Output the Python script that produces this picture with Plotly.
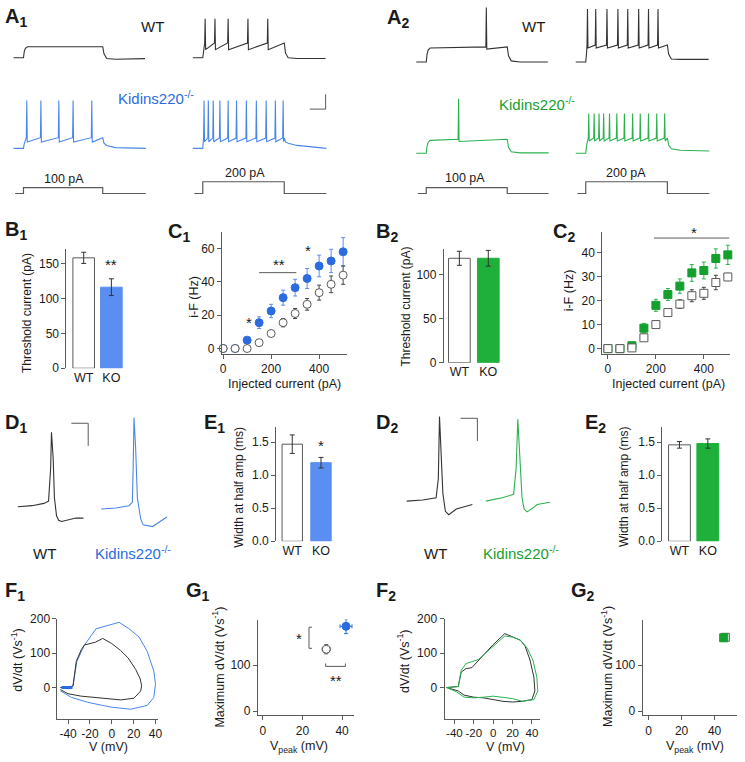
import plotly.graph_objects as go

W, H = 745, 762
FONT = "Liberation Sans, Arial, Helvetica, sans-serif"
INK = "#1a1a1a"
GRAY = "#5a5a5a"
TRACE_BLACK = "#333333"
BLUE = "#2b6be0"
BLUE_BAR = "#5a8ef0"
BLUE_LINE = "#4a86ea"
GREEN = "#15a02e"
GREEN_BAR = "#1eb03b"
GREEN_LINE = "#2bb24f"

# ======================= DATA =======================
groups = ["WT", "KO"]
bar_pos = [1, 2]

# --- A: current-clamp recordings (time in ms, voltage in mV above rest) ---
a_rest = -70
step_amps = [100, 200]                      # injected current steps (pA)
a1_on = [73, 73]
a1_off = [573, 587]
a2_on = [73, 73]
a2_off = [584, 588]
a_end = [840, 848]

a1_wt100_spikes = []
a1_wt200_spikes = [88, 150, 233, 358, 483]
a1_ko100_spikes = [94, 183, 296, 386, 504]
a1_ko200_spikes = [81, 108, 139, 181, 233, 286, 348, 411, 473, 531, 580]
a2_wt100_spikes = [452]
a2_wt200_spikes = [84, 136, 207, 276, 338, 407, 469, 529]
a2_ko100_spikes = [277]
a2_ko200_spikes = [92, 126, 157, 186, 223, 269, 317, 369, 417, 469, 521, 571]

# plateau (mV above rest), spike peak (mV above rest), sawtooth half-depth (mV)
a1_wt100_level = [15.0, 0, 0]
a1_wt200_level = [15.5, 53, 4.5]
a1_ko100_level = [11.5, 65, 3.0]
a1_ko200_level = [11.5, 65, 2.5]
a2_wt100_level = [19.0, 74, 1.5]
a2_wt200_level = [21.0, 72, 2.0]
a2_ko100_level = [17.5, 74, 1.5]
a2_ko200_level = [18.7, 54, 2.0]
# after-step relaxation (mV above rest at +25 ms, +80 ms, end)
a1_wt100_tail = [-1.0, -2.0, -1.2]
a1_wt200_tail = [0.0, -1.0, -1.0]
a1_ko100_tail = [4.0, 1.0, 0.0]
a1_ko200_tail = [7.0, 4.0, 0.0]
a2_wt100_tail = [1.5, 0.0, 0.0]
a2_wt200_tail = [4.0, 3.5, 3.5]
a2_ko100_tail = [2.0, 0.5, 0.5]
a2_ko200_tail = [6.0, 4.0, 3.0]
a_scale_ms, a_scale_mV = 100, 20

# --- B: threshold current (pA) ---
b1_thr = [158, 116]
b1_err = [8, 12]
b2_thr = [119, 119]
b2_err = [8, 9]

# --- C: i-F curves ---
inj = [0, 50, 100, 150, 200, 250, 300, 350, 400, 450, 500]
c1_wt = [0, 0, 0, 3.5, 9, 15.5, 21, 26.5, 33.5, 38.5, 44]
c1_wt_err = [0, 0, 0, 1, 1.5, 2.5, 3, 3.5, 4.5, 5, 5.5]
c1_ko = [0, 0, 5, 15.5, 22.5, 30.5, 36.5, 42, 49.5, 52.5, 58]
c1_ko_err = [0, 0, 1.5, 3.5, 4, 4.5, 5, 6, 6.5, 7, 8.5]
c2_wt = [0, 0, 0.3, 4.5, 10, 15, 18.5, 22, 23, 27.5, 29.8]
c2_wt_err = [0, 0, 0.5, 1, 1, 1.5, 1.8, 2.5, 2.5, 3, 1.5]
c2_ko = [0, 0, 1.2, 8.5, 18, 22.5, 26, 31.5, 32.5, 37.5, 39]
c2_ko_err = [0, 0, 0.8, 2, 2.5, 2.5, 3, 3.5, 3.5, 4, 4]

# --- D: single action potentials (ms, mV) ---
d1_wt_t = [0.7, 2.4, 3.8, 4.35, 4.6, 4.7, 4.9, 5.05, 5.3, 5.55, 5.9, 6.5, 7.6, 8.5]
d1_wt_v = [-61, -60, -58, -56, -27, 5, -18, -53, -69, -73, -74, -73, -71, -71]
d1_ko_t = [10.6, 12.35, 13.9, 14.3, 14.4, 14.5, 14.7, 14.9, 15.3, 15.6, 16.7, 17.4, 18.4]
d1_ko_v = [-63, -62, -60, -57, -27, 18, -10, -53, -72, -77, -78.5, -75, -70]
d2_wt_t = [1.0, 2.9, 4.5, 4.76, 4.9, 5.06, 5.3, 5.6, 6.0, 6.9, 7.8, 8.8]
d2_wt_v = [-56, -55, -53, -36, 19, -10, -49, -65, -68, -63, -61, -59]
d2_ko_t = [10.4, 12.35, 13.7, 14.0, 14.2, 14.4, 14.7, 14.95, 15.3, 16.0, 16.5, 18.0]
d2_ko_v = [-56, -53, -50, -27, 16.5, -10, -53, -63, -65.5, -62, -59, -57]
d_scale_ms, d_scale_mV = 2, 20

# --- E: AP width at half amplitude (ms) ---
e1_w = [1.47, 1.19]
e1_err = [0.14, 0.08]
e2_w = [1.46, 1.48]
e2_err = [0.05, 0.07]

# --- F: phase plots (V in mV, dV/dt in V/s) ---
f1_wt_v = [-47, -40, -35.5, -32.5, -28, -25, -15, -8.3, 0, 8, 15, 22, 26, 27.3, 26.4, 20.3, 8.3, -6.8, -28, -40, -47]
f1_wt_d = [0, 1, 4.7, 76, 110, 124, 132, 143, 128, 108, 86, 52, 25, 5, -10, -31, -36, -31, -25, -18, -6]
f1_ko_v = [-47, -37, -35.5, -32, -25, -14.4, 6.7, 15.8, 24.9, 32.5, 38.4, 40, 38.4, 32.5, 17.3, -0.8, -21.9, -37, -47]
f1_ko_d = [0, 0, 5, 76, 124, 171, 190, 171, 147, 105, 48, 9.5, -28.6, -52, -63, -57, -43, -28.6, -9.5]
f1_ko_rest_v = [-46, -36]
f1_ko_rest_d = [0, 0]
f2_wt_v = [-48, -36, -33, -28, -22, -15, -8, 0, 12, 20, 28, 33, 38, 42, 43, 40, 30, 20, 10, 0, -10, -20, -30, -36, -48]
f2_wt_d = [0, 3, 45, 55, 58, 80, 100, 125, 157, 148, 138, 120, 80, 30, -10, -35, -40, -42, -40, -35, -30, -28, -22, -10, 0]
f2_ko_v = [-48, -36, -33, -28, -22, -15, -8, 0, 12, 20, 28, 35, 41, 45, 46, 42, 30, 20, 10, 0, -10, -20, -30, -38, -48]
f2_ko_d = [0, 3, 50, 70, 75, 82, 100, 120, 150, 147, 138, 115, 80, 30, -10, -35, -40, -32, -28, -25, -28, -30, -28, -12, 0]

# --- G: maximum dV/dt vs V peak ---
g1_vpeak = [32, 42]
g1_vpeak_err = [2, 3]
g1_max = [135, 185]
g1_max_err = [10, 16]
g2_vpeak = [46.5, 45.5]
g2_vpeak_err = [1, 1]
g2_max = [161, 160]
g2_max_err = [7, 8]

# ======================= FIGURE =======================
fig = go.Figure()
layout = {}
anns = []
shapes = []
counter = [0]


def add_axes(xpx, ypx, xr, yr):
    counter[0] += 1
    i = counter[0]
    xa = "xaxis" if i == 1 else f"xaxis{i}"
    ya = "yaxis" if i == 1 else f"yaxis{i}"
    xref = "x" if i == 1 else f"x{i}"
    yref = "y" if i == 1 else f"y{i}"
    layout[xa] = dict(domain=[max(0, xpx[0] / W), min(1, xpx[1] / W)], range=xr,
                      anchor=yref, visible=False, fixedrange=True, showgrid=False, zeroline=False)
    layout[ya] = dict(domain=[max(0, 1 - ypx[1] / H), min(1, 1 - ypx[0] / H)], range=yr,
                      anchor=xref, visible=False, fixedrange=True, showgrid=False, zeroline=False)
    return xref, yref, xa, ya


AXSTYLE = dict(visible=True, showline=True, linecolor=GRAY, linewidth=1, ticks="outside",
               ticklen=4, tickcolor=GRAY, tickwidth=1, showgrid=False, zeroline=False,
               tickangle=0, tickfont=dict(family=FONT, size=12, color=INK))


def style(a, **kw):
    d = dict(AXSTYLE)
    d.update(kw)
    layout[a].update(d)


def text(s, xpx, ypx, size=12, color=INK, angle=0, xanchor="center", yanchor="middle"):
    anns.append(dict(text=s, x=xpx / W, y=1 - ypx / H, xref="paper", yref="paper",
                     showarrow=False, textangle=angle, xanchor=xanchor, yanchor=yanchor,
                     font=dict(family=FONT, size=size, color=color)))


def dtext(s, xref, yref, x, y, size=15):
    anns.append(dict(text=s, x=x, y=y, xref=xref, yref=yref, showarrow=False,
                     font=dict(family=FONT, size=size, color=INK)))


def line(xref, yref, xs, ys, color, width=1):
    fig.add_trace(go.Scatter(x=xs, y=ys, xaxis=xref, yaxis=yref, mode="lines",
                             line=dict(color=color, width=width), hoverinfo="skip"))


# ---------- A panels ----------
PX_MS, PX_MV, PX_PA = 0.16, 0.75, 0.06


def firing(spikes, level, on, off, end, tail):
    plat, peak, sag = level
    t = [10, on]
    v = [0.0, 0.0]
    first = spikes[0] if spikes else off
    for dt, frac in [(5, 0.55), (12, 0.85), (25, 1.0)]:
        if on + dt < first - 3:
            t.append(on + dt)
            v.append(plat * frac)
    for s in spikes:
        t += [s - 3, s, s + 3]
        v += [plat + sag, peak, plat - sag]
    t.append(off)
    v.append(plat + (sag if spikes else 0))
    t += [off + 8, off + 25, off + 80, end]
    v += [plat * 0.4 + tail[0] * 0.6, tail[0], tail[1], tail[2]]
    return t, [a_rest + x for x in v]


def trace_axes(x0, rest_px):
    top = max(0, rest_px - 56)
    bot = rest_px + 12
    xr = [0, 140 / PX_MS]
    yr = [a_rest - (bot - rest_px) / PX_MV, a_rest + (rest_px - top) / PX_MV]
    return add_axes([x0, x0 + 140], [top, bot], xr, yr)


def step_axes(x0, base_px=190):
    return add_axes([x0, x0 + 140], [165, 196],
                    [0, 140 / PX_MS], [-(196 - base_px) / PX_PA, (base_px - 165) / PX_PA])


A_COLS = [(10, 51.7, 144, a1_on[0], a1_off[0], a_end[0]),
          (191, 51.7, 144, a1_on[1], a1_off[1], a_end[1]),
          (416.6, 56, 149, a2_on[0], a2_off[0], a_end[0]),
          (577.6, 56, 149, a2_on[1], a2_off[1], a_end[1])]
A_DATA = [
    (a1_wt100_spikes, a1_wt100_level, a1_wt100_tail, a1_ko100_spikes, a1_ko100_level, a1_ko100_tail, BLUE_LINE, step_amps[0]),
    (a1_wt200_spikes, a1_wt200_level, a1_wt200_tail, a1_ko200_spikes, a1_ko200_level, a1_ko200_tail, BLUE_LINE, step_amps[1]),
    (a2_wt100_spikes, a2_wt100_level, a2_wt100_tail, a2_ko100_spikes, a2_ko100_level, a2_ko100_tail, GREEN_LINE, step_amps[0]),
    (a2_wt200_spikes, a2_wt200_level, a2_wt200_tail, a2_ko200_spikes, a2_ko200_level, a2_ko200_tail, GREEN_LINE, step_amps[1]),
]
for (x0, wt_rest, ko_rest, on, off, end), (ws, wl, wtail, ks, kl, ktail, kcol, amp) in zip(A_COLS, A_DATA):
    xr_, yr_, _, _ = trace_axes(x0, wt_rest)
    t, v = firing(ws, wl, on, off, end, wtail)
    line(xr_, yr_, t, v, TRACE_BLACK, 1.1)
    xr_, yr_, _, _ = trace_axes(x0, ko_rest)
    t, v = firing(ks, kl, on, off, end + 5, ktail)
    line(xr_, yr_, t, v, kcol, 1.1)
    if x0 == 191:
        # scale bar (100 ms, 20 mV)
        line(xr_, yr_, [848 - a_scale_ms, 848, 848],
             [a_rest + 53.3, a_rest + 53.3, a_rest + 53.3 + a_scale_mV], GRAY, 1)
    xs_, ys_, _, _ = step_axes(x0)
    line(xs_, ys_, [20, on, on, off, off, end + 5], [0, 0, amp, amp, 0, 0], GRAY, 1.2)

text("WT", 152, 20, size=15)
text("Kidins220<sup>-/-</sup>", 155, 92, size=15, color=BLUE)
text("100 pA", 63, 175, size=12.5)
text("200 pA", 245, 169, size=12.5)
text("WT", 537, 20, size=15)
text("Kidins220<sup>-/-</sup>", 540, 98, size=15, color=GREEN)
text("100 pA", 467, 174, size=12.5)
text("200 pA", 630, 169, size=12.5)


# ---------- B panels ----------
def bar_panel(xpx, ypx, xr, yr, vals, errs, kcolor, width, ticks, title, tx, ty, fmt=None):
    xr_, yr_, xa, ya = add_axes(xpx, ypx, xr, yr)
    fig.add_trace(go.Bar(x=bar_pos, y=vals, width=width, xaxis=xr_, yaxis=yr_,
                         marker=dict(color=["white", kcolor], line=dict(color=[GRAY, kcolor], width=1)),
                         error_y=dict(type="data", array=errs, color="#333", thickness=1, width=2.5),
                         hoverinfo="skip"))
    style(ya, tickvals=ticks, ticktext=[fmt.format(v) for v in ticks] if fmt else None)
    style(xa, showline=False, ticks="", tickvals=bar_pos, ticktext=groups,
          tickfont=dict(family=FONT, size=12.5, color=INK))
    text(title, tx, ty, size=12, angle=-90)
    return xr_, yr_


xb1, yb1 = bar_panel([65, 130], [247, 368], [0.375, 2.7], [0, 170], b1_thr, b1_err, BLUE_BAR, 0.78,
                     [0, 50, 100, 150], "Threshold current (pA)", 26, 312)
dtext("**", xb1, yb1, 2, 149)
bar_panel([446, 510], [246.7, 362.3], [0.462, 2.654], [0, 129.4], b2_thr, b2_err, GREEN_BAR, 0.75,
          [0, 50, 100], "Threshold current (pA)", 408, 305)


# ---------- C panels ----------
def err_scatter(xr_, yr_, x, y, e, symbol, fill, edge, ecol, size=8):
    fig.add_trace(go.Scatter(x=x, y=y, xaxis=xr_, yaxis=yr_, mode="markers", cliponaxis=False,
                             marker=dict(symbol=symbol, size=size, color=fill, line=dict(color=edge, width=1)),
                             error_y=dict(type="data", array=e, color=ecol, thickness=1, width=2),
                             hoverinfo="skip"))


xc1, yc1, xa, ya = add_axes([222, 348], [229, 353], [-5, 515], [-3, 70])
err_scatter(xc1, yc1, inj, c1_ko, c1_ko_err, "circle", BLUE, BLUE, BLUE_BAR)
err_scatter(xc1, yc1, inj, c1_wt, c1_wt_err, "circle", "white", GRAY, "#444")
style(ya, tickvals=[0, 20, 40, 60])
style(xa, tickvals=[0, 200, 400])
text("i-F (Hz)", 193, 295, size=12.5, angle=-90)
text("Injected current (pA)", 285, 384, size=12.5)
shapes.append(dict(type="line", xref=xc1, yref=yc1, x0=150, x1=305, y0=45.5, y1=45.5,
                   line=dict(color=GRAY, width=1)))
dtext("**", xc1, yc1, 232, 50.5)
dtext("*", xc1, yc1, 106, 15.5)
dtext("*", xc1, yc1, 354, 59)

xc2, yc2, xa, ya = add_axes([606, 735], [229, 353], [-23.5, 509.5], [-2.04, 48.6])
err_scatter(xc2, yc2, inj, c2_ko, c2_ko_err, "square", GREEN, GREEN, GREEN_LINE)
err_scatter(xc2, yc2, inj, c2_wt, c2_wt_err, "square", "white", GRAY, "#444")
style(ya, tickvals=[0, 10, 20, 30, 40])
style(xa, tickvals=[0, 200, 400])
text("i-F (Hz)", 572, 289, size=12.5, angle=-90)
text("Injected current (pA)", 673, 384, size=12.5)
shapes.append(dict(type="line", xref=xc2, yref=yc2, x0=192, x1=506, y0=46, y1=46,
                   line=dict(color=GRAY, width=1)))
dtext("*", xc2, yc2, 357, 48.5)

# ---------- D panels ----------
PX_DMS, PX_DMV = 8.5, 1.15
for (x0, wt_t, wt_v, ko_t, ko_v, kcol, sb) in [
        (10, d1_wt_t, d1_wt_v, d1_ko_t, d1_ko_v, BLUE_LINE, (7.06, 13)),
        (400, d2_wt_t, d2_wt_v, d2_ko_t, d2_ko_v, GREEN_LINE, (7.4, 17.4))]:
    xd, yd, _, _ = add_axes([x0, x0 + 165], [410, 540], [0, 165 / PX_DMS],
                            [-60 - 32 / PX_DMV, -60 + 98 / PX_DMV])
    line(xd, yd, wt_t, wt_v, TRACE_BLACK, 1.1)
    line(xd, yd, ko_t, ko_v, kcol, 1.1)
    line(xd, yd, [sb[0], sb[0] + d_scale_ms, sb[0] + d_scale_ms],
         [sb[1], sb[1], sb[1] - d_scale_mV], GRAY, 1)

text("WT", 43, 557, size=15)
text("Kidins220<sup>-/-</sup>", 132, 556, size=15, color=BLUE)
text("WT", 438, 557, size=15)
text("Kidins220<sup>-/-</sup>", 524, 556, size=15, color=GREEN)

# ---------- E panels ----------
xe1, ye1 = bar_panel([276.7, 340], [428, 544.3], [0.438, 2.62], [0, 1.728], e1_w, e1_err, BLUE_BAR, 0.71,
                     [0, 0.5, 1.0, 1.5], "Width at half amp (ms)", 239, 489, fmt="{:.1f}")
dtext("*", xe1, ye1, 2, 1.45)
bar_panel([666.7, 730], [428, 544.3], [0.4, 2.61], [0, 1.728], e2_w, e2_err, GREEN_BAR, 0.77,
          [0, 0.5, 1.0, 1.5], "Width at half amp (ms)", 628, 489, fmt="{:.1f}")

# ---------- F panels ----------
xf1, yf1, xa, ya = add_axes([56, 157.3], [623.3, 725], [-49.7, 42.1], [-90.6, 200])
line(xf1, yf1, f1_ko_v, f1_ko_d, BLUE_LINE, 1)
line(xf1, yf1, f1_wt_v, f1_wt_d, TRACE_BLACK, 1)
line(xf1, yf1, f1_ko_rest_v, f1_ko_rest_d, BLUE, 3)
style(ya, tickvals=[0, 100, 200])
style(xa, tickvals=[-40, -20, 0, 20, 40], ticktext=["-40", "-20", "0", "20", "40"])
text("dV/dt (Vs<sup>-1</sup>)", 15, 665, size=12.5, angle=-90)
text("V (mV)", 108, 754, size=12.5)

xf2, yf2, xa, ya = add_axes([446.7, 543.3], [623.3, 725], [-50.2, 48.5], [-90.6, 200])
line(xf2, yf2, f2_wt_v, f2_wt_d, TRACE_BLACK, 1)
line(xf2, yf2, f2_ko_v, f2_ko_d, GREEN_LINE, 1)
style(ya, tickvals=[0, 100, 200])
style(xa, tickvals=[-40, -20, 0, 20, 40], ticktext=["-40", "-20", "0", "20", "40"],
      tickfont=dict(family=FONT, size=11.5, color=INK))
text("dV/dt (Vs<sup>-1</sup>)", 405, 667, size=12.5, angle=-90)
text("V (mV)", 508, 754, size=12.5)


# ---------- G panels ----------
def g_points(xr_, yr_, vx, vxe, vy, vye, kcol, symbol):
    for i, (fill, edge, ecol) in enumerate([("white", GRAY, "#555"), (kcol, kcol, kcol)]):
        fig.add_trace(go.Scatter(x=[vx[i]], y=[vy[i]], xaxis=xr_, yaxis=yr_, mode="markers",
                                 cliponaxis=False,
                                 marker=dict(symbol=symbol, size=8, color=fill, line=dict(color=edge, width=1)),
                                 error_x=dict(type="data", array=[vxe[i]], color=ecol, thickness=1, width=2),
                                 error_y=dict(type="data", array=[vye[i]], color=ecol, thickness=1, width=2),
                                 hoverinfo="skip"))


xg1, yg1, xa, ya = add_axes([258.3, 355], [624, 721.7], [-2.5, 45.85], [-9.4, 199.8])
g_points(xg1, yg1, g1_vpeak, g1_vpeak_err, g1_max, g1_max_err, BLUE, "circle")
style(ya, tickvals=[0, 100, 200])
style(xa, tickvals=[0, 20, 40])
text("Maximum dV/dt (Vs<sup>-1</sup>)", 218, 672, size=12.5, angle=-90)
text("V<sub>peak</sub> (mV)", 300, 754, size=12.5)
shapes.append(dict(type="path", xref=xg1, yref=yg1, path="M 24.8,183 L 23.3,183 L 23.3,137 L 24.8,137",
                   line=dict(color=GRAY, width=1)))
shapes.append(dict(type="path", xref=xg1, yref=yg1, path="M 31.7,104 L 31.7,97.6 L 41.7,97.6 L 41.7,104",
                   line=dict(color=GRAY, width=1)))
dtext("*", xg1, yg1, 18.5, 158)
dtext("**", xg1, yg1, 36.7, 67)

xg2, yg2, xa, ya = add_axes([646.7, 742], [624, 721.7], [-3.6, 53.6], [-9.4, 199.8])
g_points(xg2, yg2, g2_vpeak, g2_vpeak_err, g2_max, g2_max_err, GREEN, "square")
style(ya, tickvals=[0, 100, 200])
style(xa, tickvals=[0, 20, 40])
text("Maximum dV/dt (Vs<sup>-1</sup>)", 610, 672, size=12.5, angle=-90)
text("V<sub>peak</sub> (mV)", 700, 754, size=12.5)

# ---------- panel letters ----------
letters = [("A<sub>1</sub>", 1, -4), ("A<sub>2</sub>", 387, -3),
           ("B<sub>1</sub>", 1, 213), ("C<sub>1</sub>", 166, 215),
           ("B<sub>2</sub>", 376, 215), ("C<sub>2</sub>", 554, 215),
           ("D<sub>1</sub>", 1, 410), ("E<sub>1</sub>", 202, 410),
           ("D<sub>2</sub>", 376, 410), ("E<sub>2</sub>", 587, 410),
           ("F<sub>1</sub>", 1, 581), ("G<sub>1</sub>", 184, 581),
           ("F<sub>2</sub>", 376, 581), ("G<sub>2</sub>", 572, 581)]
for s, x, y in letters:
    text("<b>" + s + "</b>", x, y, size=20, xanchor="left", yanchor="top")

layout.update(dict(width=W, height=H, margin=dict(l=0, r=0, t=0, b=0),
                   paper_bgcolor="white", plot_bgcolor="white", showlegend=False,
                   annotations=anns, shapes=shapes, barmode="overlay",
                   font=dict(family=FONT, size=12, color=INK)))
fig.update_layout(**layout)
fig.write_html("out.html", config={"displayModeBar": False},
               post_script="document.body.style.margin='0';document.body.style.overflow='hidden';")
